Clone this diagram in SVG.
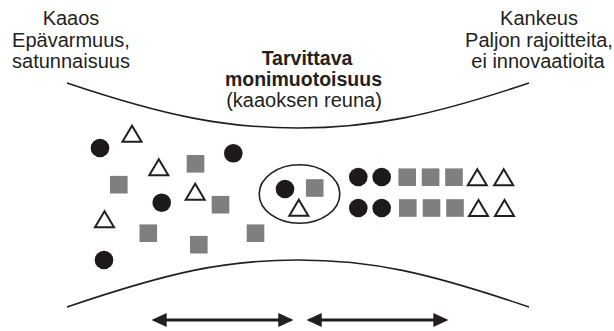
<svg xmlns="http://www.w3.org/2000/svg" xmlns:xlink="http://www.w3.org/1999/xlink" width="614" height="331" viewBox="0 0 614 331">
  <style>
    .lbl { font-family: "Liberation Sans", Arial, sans-serif; font-size: 20px; fill: #231f20; text-anchor: middle; }
    .bold { font-weight: bold; font-size: 19.5px; }
    .edge { fill: none; stroke: #231f20; stroke-width: 1.6; }
    .dot { fill: #1e1a1b; }
    .sq { fill: #7f7f7f; }
    .tri { fill: #fff; stroke: #231f20; stroke-width: 2; stroke-linejoin: miter; }
    .arrow { stroke: #231f20; stroke-width: 3; fill: none; marker-start: url(#head); marker-end: url(#head); }
  </style>
  <defs>
    <polygon id="triangle" class="tri" points="0,-8 -9.5,8 9.5,8"/>
    <rect id="square" class="sq" x="-8.8" y="-8.8" width="17.6" height="17.6"/>
    <circle id="disc" class="dot" r="9.3"/>
    <marker id="head" viewBox="0 0 15 14" refX="7" refY="7" markerWidth="15" markerHeight="14" markerUnits="userSpaceOnUse" orient="auto-start-reverse">
      <path d="M0,0 L15,7 L0,14 Z" fill="#231f20"/>
    </marker>
  </defs>

  <!-- captions -->
  <g id="chaos-label">
    <text class="lbl" x="71" y="25">Kaaos</text>
    <text class="lbl" x="71" y="46.5">Epävarmuus,</text>
    <text class="lbl" x="71" y="68.3">satunnaisuus</text>
  </g>
  <g id="rigidity-label">
    <text class="lbl" x="539" y="25">Kankeus</text>
    <text class="lbl" x="539" y="46.5">Paljon rajoitteita,</text>
    <text class="lbl" x="538" y="68.3">ei innovaatioita</text>
  </g>
  <g id="edge-of-chaos-label">
    <text class="lbl bold" x="307" y="65">Tarvittava</text>
    <text class="lbl bold" x="303.5" y="86.3">monimuotoisuus</text>
    <text class="lbl" x="304" y="107">(kaaoksen reuna)</text>
  </g>

  <!-- funnel boundaries -->
  <g id="boundaries">
    <path class="edge" d="M67,83 C165,116 225,128 298,128 C371,128 431,116 529,83"/>
    <path class="edge" d="M67,307 C170,272 225,260 298,260 C371,260 426,272 529,307"/>
  </g>

  <!-- scattered elements on the chaotic side -->
  <g id="scattered">
    <use href="#disc" x="100" y="148"/>
    <use href="#disc" x="233.3" y="153.3"/>
    <use href="#disc" x="161.7" y="202.7"/>
    <use href="#disc" x="104" y="260"/>
    <use href="#square" x="195.5" y="163.8"/>
    <use href="#square" x="118.8" y="184.7"/>
    <use href="#square" x="220.5" y="204.7"/>
    <use href="#square" x="148.3" y="233.2"/>
    <use href="#square" x="198.8" y="244.7"/>
    <use href="#square" x="255.5" y="233.2"/>
    <use href="#triangle" x="132" y="133.7"/>
    <use href="#triangle" x="158.8" y="167.2"/>
    <use href="#triangle" x="195.2" y="191.7"/>
    <use href="#triangle" x="104.5" y="219.2"/>
  </g>

  <!-- balanced group at the narrowest point -->
  <g id="balanced">
    <ellipse class="edge" cx="299.5" cy="194" rx="40.3" ry="29.3"/>
    <use href="#disc" x="285" y="189"/>
    <use href="#square" x="314.7" y="188"/>
    <use href="#triangle" x="298.8" y="207.7"/>
  </g>

  <!-- ordered rows on the rigid side -->
  <g id="ordered">
    <use href="#disc" x="358.3" y="177"/>
    <use href="#disc" x="381.7" y="177"/>
    <use href="#square" x="407.2" y="177.2"/>
    <use href="#square" x="430.6" y="177.2"/>
    <use href="#square" x="454" y="177.2"/>
    <use href="#triangle" x="477.3" y="177.2"/>
    <use href="#triangle" x="503.7" y="177.2"/>
    <use href="#disc" x="358.3" y="208"/>
    <use href="#disc" x="381.7" y="208"/>
    <use href="#square" x="407.8" y="208"/>
    <use href="#square" x="431.5" y="208"/>
    <use href="#square" x="455" y="208"/>
    <use href="#triangle" x="478.5" y="208"/>
    <use href="#triangle" x="504.5" y="208"/>
  </g>

  <!-- range arrows -->
  <g id="connectors">
    <line class="arrow" x1="159.7" y1="320" x2="285.3" y2="320"/>
    <line class="arrow" x1="314.7" y1="320" x2="440.3" y2="320"/>
  </g>
</svg>
